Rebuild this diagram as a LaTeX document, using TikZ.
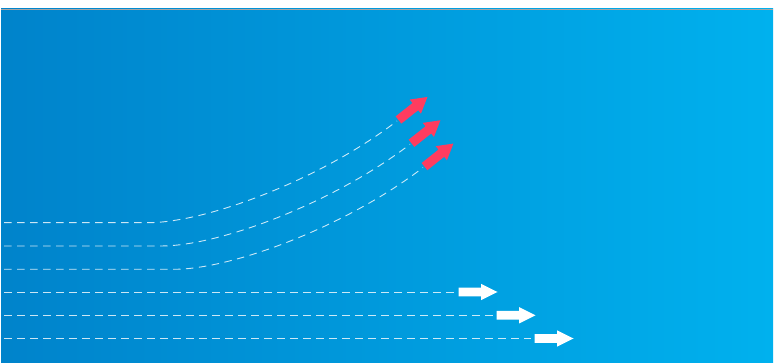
\documentclass[tikz,border=0pt]{standalone}
\definecolor{bgleft}{RGB}{0,131,203}
\definecolor{bgright}{RGB}{0,177,238}
\definecolor{redarrow}{RGB}{255,60,95}
\tikzset{
  trail/.style={draw=white, draw opacity=0.8, line width=0.9pt, dash pattern=on 7.5pt off 5.5pt},
}
\newcommand{\fatarrowshape}[1]{%
  \fill[#1] (0,-4.4) -- (22.5,-4.4) -- (22.5,-8.2) -- (39,0) -- (22.5,8.2) -- (22.5,4.4) -- (0,4.4) -- cycle;}
\newcommand{\redarrowshape}{%
  \fill[redarrow] (0,-4.6) -- (21.5,-4.6) -- (21.5,-9) -- (37,0) -- (21.5,9) -- (21.5,4.6) -- (0,4.6) -- cycle;}
\begin{document}
\begin{tikzpicture}[x=1pt,y=-1pt]
\useasboundingbox (0,0) rectangle (774,363);
% background
\shade[left color=bgleft, right color=bgright] (1,9) rectangle (773,363);
\draw[gray!70, line width=0.4pt] (1,9) -- (773,9);
% coordinates
\coordinate (s1) at (4,222.7);   \coordinate (b1) at (148,222.7); \coordinate (e1) at (397,121);
\coordinate (s2) at (4,246);     \coordinate (b2) at (161,246);   \coordinate (e2) at (410,144.3);
\coordinate (s3) at (4,269.3);   \coordinate (b3) at (174,269.3); \coordinate (e3) at (423,167.6);
\coordinate (s4) at (4,292);     \coordinate (t4) at (455,292);
\coordinate (s5) at (4,315.3);   \coordinate (t5) at (493,315.3);
\coordinate (s6) at (4,338.5);   \coordinate (t6) at (531,338.5);
% curved trails
\draw[trail] (s1) -- (b1) .. controls ([xshift=58]b1) and ([shift={(-77,59)}]e1) .. (e1);
\draw[trail] (s2) -- (b2) .. controls ([xshift=58]b2) and ([shift={(-77,59)}]e2) .. (e2);
\draw[trail] (s3) -- (b3) .. controls ([xshift=58]b3) and ([shift={(-77,59)}]e3) .. (e3);
% straight trails
\draw[trail] (s4) -- (t4);
\draw[trail] (s5) -- (t5);
\draw[trail] (s6) -- (t6);
% red arrows
\begin{scope}[shift={(398.5,120)}, rotate=38.5] \redarrowshape \end{scope}
\begin{scope}[shift={(411.5,143.3)}, rotate=38.5] \redarrowshape \end{scope}
\begin{scope}[shift={(424.5,166.6)}, rotate=38.5] \redarrowshape \end{scope}
% white arrows
\begin{scope}[shift={(458.5,292)}] \fatarrowshape{white} \end{scope}
\begin{scope}[shift={(496.5,315.3)}] \fatarrowshape{white} \end{scope}
\begin{scope}[shift={(534.5,338.5)}] \fatarrowshape{white} \end{scope}
\end{tikzpicture}
\end{document}
